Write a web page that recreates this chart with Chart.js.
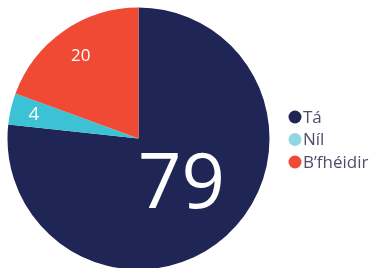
<!DOCTYPE html>
<html>
<head>
<meta charset="utf-8">
<script src="https://cdn.jsdelivr.net/npm/chart.js@4"></script>
<style>
  html, body { margin: 0; padding: 0; background: #fff; }
  #wrap { width: 377px; height: 268px; }
</style>
</head>
<body>
<div id="wrap"><canvas id="myChart"></canvas></div>
<script>
// data
const labels = ["Tá", "Níl", "B’fhéidir"];
const values = [79, 4, 20];
const sliceColors = ["#1f2555", "#3bc3d5", "#f04a35"];
const legendColors = ["#1f2555", "#8fd8e3", "#f04a35"];

// label styling per slice (font size, distance from centre as share of radius)
const labelSizes = [76, 19, 17];
const labelDist = [0.49, 0.82, 0.77];

const FONT = "'Open Sans', sans-serif";

const sliceLabels = {
  id: "sliceLabels",
  afterDatasetsDraw(chart) {
    const ctx = chart.ctx;
    const meta = chart.getDatasetMeta(0);
    ctx.save();
    ctx.fillStyle = "#ffffff";
    ctx.textAlign = "center";
    ctx.textBaseline = "middle";
    meta.data.forEach((arc, i) => {
      const { x, y, startAngle, endAngle, outerRadius } = arc.getProps(
        ["x", "y", "startAngle", "endAngle", "outerRadius"], true);
      const mid = (startAngle + endAngle) / 2;
      const r = outerRadius * labelDist[i];
      ctx.font = "400 " + labelSizes[i] + "px " + FONT;
      ctx.fillText(String(values[i]), x + Math.cos(mid) * r, y + Math.sin(mid) * r);
    });
    ctx.restore();
  },
};

const sideLegend = {
  id: "sideLegend",
  afterDraw(chart) {
    const ctx = chart.ctx;
    const left = chart.chartArea.right + 25;
    const top = 117;
    const step = 22.5;
    ctx.save();
    ctx.textBaseline = "middle";
    ctx.font = "400 17px " + FONT;
    labels.forEach((lab, i) => {
      const cy = top + i * step;
      ctx.fillStyle = legendColors[i];
      ctx.beginPath();
      ctx.arc(left, cy, 6.5, 0, Math.PI * 2);
      ctx.fill();
      ctx.fillStyle = "#4e4e6c";
      ctx.fillText(lab, left + 8, cy + 1);
    });
    ctx.restore();
  },
};

document.addEventListener("DOMContentLoaded", function () {
  const config = {
    type: "pie",
    data: {
      labels: labels,
      datasets: [
        {
          data: values,
          backgroundColor: sliceColors,
          borderWidth: 0,
          radius: 131,
        },
      ],
    },
    options: {
      responsive: true,
      maintainAspectRatio: false,
      animation: false,
      layout: {
        padding: { left: 7, right: 107, top: 9, bottom: 0 },
      },
      plugins: {
        legend: { display: false },
        tooltip: { enabled: false },
      },
    },
    plugins: [sliceLabels, sideLegend],
  };

  const ctx = document.getElementById("myChart").getContext("2d");
  new Chart(ctx, config);
});
</script>
</body>
</html>
